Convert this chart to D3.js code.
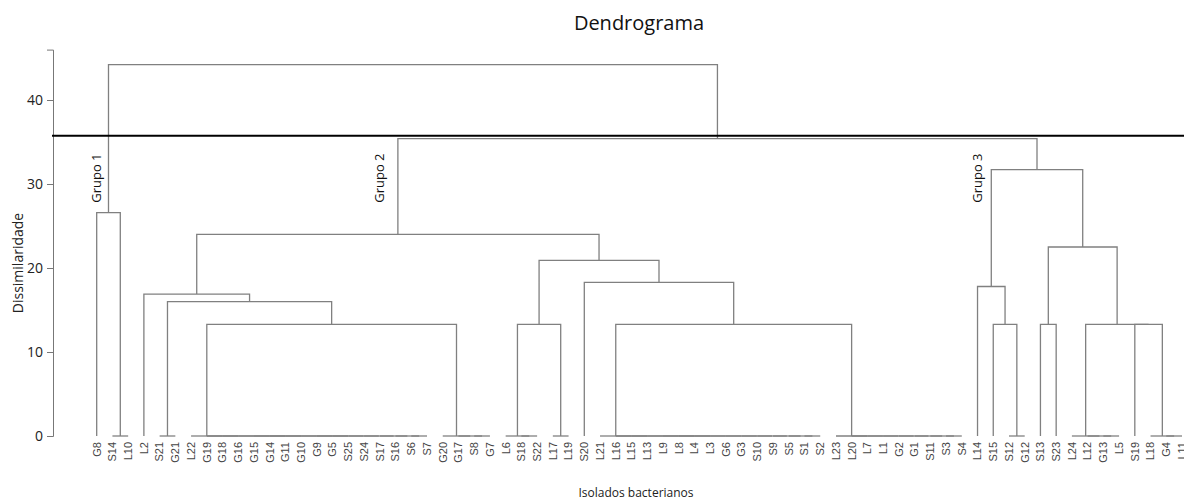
<!DOCTYPE html>
<html>
<head>
<meta charset="utf-8">
<script src="https://cdn.jsdelivr.net/npm/d3@7"></script>
<style>
  html, body { margin: 0; padding: 0; background: #fff; }
  svg { display: block; }
</style>
</head>
<body>
<svg id="chart" width="1184" height="500"></svg>
<script>
// ---------- DATA ----------
const leaves = ["G8","S14","L10","L2","S21","G21","L22","G19","G18","G16","G15","G14","G11","G10","G9","G5","S25","S24","S17","S16","S6","S7","G20","G17","S8","G7","L6","S18","S22","L17","L19","S20","L21","L16","L15","L13","L9","L8","L4","L3","G6","G3","S10","S9","S5","S1","S2","L23","L20","L7","L1","G2","G1","S11","S3","S4","L14","S15","S12","G12","S13","S23","L24","L12","G13","L5","S19","L18","G4","L11"];

// clusters (members merged right-to-left at the given height)
const clusterIds = ["c01","c02","c03","c04","c05","c06","c07","c08","c09","c10","c11","c12","c13","c14","c15","c16","c17","c18","c19","c20","c21","c22","c23","c24","c25","c26","c27","c28"];
const clusterMembers = [
  ["S14","L10"],
  ["G8","c01"],
  ["S21","G21"],
  ["L22","G19","G18","G16","G15","G14","G11","G10","G9","G5","S25","S24","S17","S16","S6","S7"],
  ["G20","G17","S8","G7"],
  ["c04","c05"],
  ["c03","c06"],
  ["L2","c07"],
  ["L6","S18","S22"],
  ["L17","L19"],
  ["c09","c10"],
  ["L21","L16","L15","L13","L9","L8","L4","L3","G6","G3","S10","S9","S5","S1","S2"],
  ["L23","L20","L7","L1","G2","G1","S11","S3","S4"],
  ["c12","c13"],
  ["S20","c14"],
  ["c11","c15"],
  ["c08","c16"],
  ["S12","G12"],
  ["S15","c18"],
  ["L14","c19"],
  ["S13","S23"],
  ["L24","L12","G13","L5"],
  ["L18","G4","L11"],
  ["c22","S19","c23"],
  ["c21","c24"],
  ["c20","c25"],
  ["c17","c26"],
  ["c02","c27"]
];
const clusterHeights = [0,26.6,0,0,0,13.3,16.0,16.9,0,0,13.3,0,0,13.3,18.3,20.9,24.0,0,13.3,17.8,13.3,0,0,13.3,22.5,31.7,35.4,44.2];

const cutHeight = 35.75;
const groupLabels = ["Grupo 1","Grupo 2","Grupo 3"];
const groupLabelLeaves = ["G8","S17","L14"];
const groupLabelHeight = 30.7;
const yTicks = [0,10,20,30,40];

// ---------- BUILD TREE ----------
const clusterMap = new Map(clusterIds.map((id,i) => [id, {members: clusterMembers[i], h: clusterHeights[i]}]));
function build(name) {
  if (!clusterMap.has(name)) return {name, h: 0};
  const c = clusterMap.get(name);
  const kids = c.members.map(build);
  // right fold
  let node = kids[kids.length-1];
  for (let i = kids.length-2; i >= 0; i--) {
    node = {h: c.h, children: [kids[i], node]};
  }
  return node;
}
const rootData = build(clusterIds[clusterIds.length-1]);
const root = d3.hierarchy(rootData);

// ---------- SCALES ----------
const svg = d3.select("#chart");
const x = d3.scalePoint().domain(leaves).range([96.7, 1182]);
const y = d3.scaleLinear().domain([0, 46]).range([436, 49.6]);

root.eachAfter(n => {
  if (!n.children) n.x = x(n.data.name);
  else n.x = d3.mean(n.children, c => c.x);
});

// ---------- TITLE / LABELS ----------
svg.append("text")
  .attr("x", 639).attr("y", 30)
  .attr("text-anchor", "middle")
  .style("font-family", "'Open Sans', sans-serif")
  .style("font-size", "20px").style("fill", "#111")
  .text("Dendrograma");

svg.append("text")
  .attr("transform", "translate(23,263) rotate(-90)")
  .attr("text-anchor", "middle")
  .style("font-family", "'Open Sans', sans-serif")
  .style("font-size", "14px").style("fill", "#222")
  .text("Dissimilaridade");

svg.append("text")
  .attr("x", 636).attr("y", 497)
  .attr("text-anchor", "middle")
  .style("font-family", "'Open Sans', sans-serif")
  .style("font-size", "12px").style("fill", "#222")
  .text("Isolados bacterianos");

// ---------- AXIS ----------
const yAxis = d3.axisLeft(y).tickValues(yTicks).tickSizeOuter(0).tickSize(6).tickPadding(4);
const ga = svg.append("g").attr("transform", "translate(53,0)").call(yAxis);
ga.select(".domain").attr("stroke", "#777");
ga.selectAll(".tick line").attr("stroke", "#777");
ga.selectAll(".tick text")
  .style("font-family", "'Open Sans', sans-serif")
  .style("font-size", "14px").style("fill", "#222");

// ---------- LINKS ----------
const nodes = root.descendants().filter(n => n.children);
svg.append("g")
  .attr("fill", "none").attr("stroke", "#808080").attr("stroke-width", 1.3)
  .selectAll("path").data(nodes).join("path")
  .attr("d", n => {
    const [l, r] = n.children;
    return `M${l.x},${y(l.data.h)}V${y(n.data.h)}H${r.x}V${y(r.data.h)}`;
  });

// ---------- LEAF LABELS ----------
svg.append("g").selectAll("text").data(leaves).join("text")
  .attr("transform", d => `translate(${x(d)},442) rotate(-90)`)
  .attr("text-anchor", "end").attr("dy", "0.35em")
  .style("font-family", "'Liberation Sans', Arial, sans-serif")
  .style("font-size", "11px").style("fill", "#444")
  .text(d => d);

// ---------- CUT LINE ----------
svg.append("line")
  .attr("x1", 52).attr("x2", 1184)
  .attr("y1", y(cutHeight)).attr("y2", y(cutHeight))
  .attr("stroke", "#000").attr("stroke-width", 2);

// ---------- GROUP LABELS ----------
svg.append("g").selectAll("text").data(groupLabels).join("text")
  .attr("transform", (d,i) => `translate(${x(groupLabelLeaves[i])},${y(groupLabelHeight)}) rotate(-90)`)
  .attr("text-anchor", "middle").attr("dy", "0.35em")
  .style("font-family", "'Open Sans', sans-serif")
  .style("font-size", "13px").style("fill", "#111")
  .text(d => d);
</script>
</body>
</html>
